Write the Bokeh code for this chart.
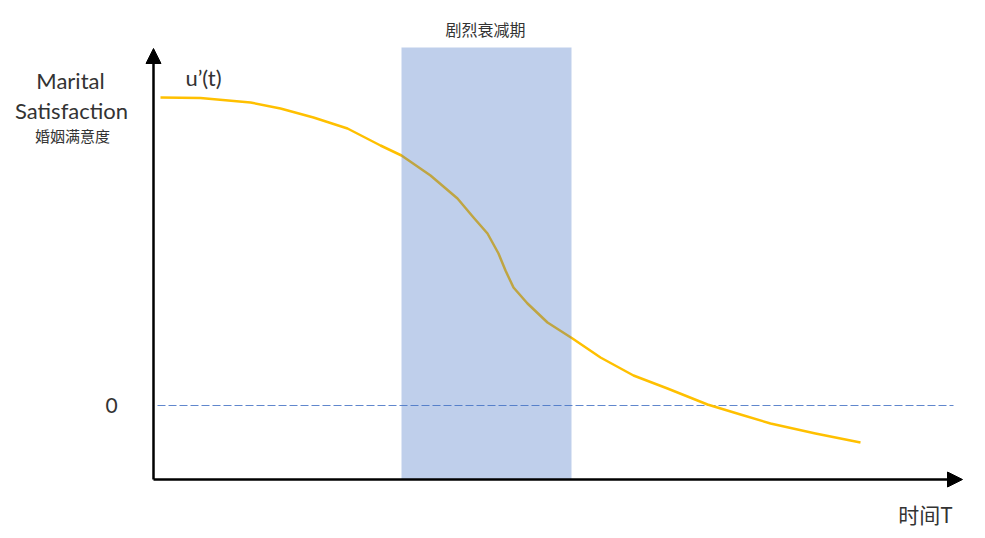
from bokeh.plotting import figure
from bokeh.models import Label, Arrow, NormalHead, Range1d
from bokeh.embed import file_html
from bokeh.resources import INLINE

# ---- data (time t, satisfaction u'(t)) ----
curve_t = [0.07, 0.47, 0.97, 1.27, 1.60, 1.94, 2.27, 2.48, 2.77, 3.04, 3.20, 3.34,
           3.45, 3.52, 3.60, 3.74, 3.94, 4.19, 4.47, 4.80, 5.14, 5.54, 5.87, 6.17,
           6.62, 7.07]
curve_u = [3.08, 3.075, 3.03, 2.97, 2.88, 2.77, 2.60, 2.50, 2.30, 2.07, 1.88, 1.72,
           1.52, 1.35, 1.18, 1.02, 0.83, 0.67, 0.48, 0.30, 0.17, 0.01, -0.09, -0.18,
           -0.28, -0.37]
band_t = [2.48, 4.18]          # 剧烈衰减期
zero_level = 0.0
zero_span = [0.04, 8.0]
axis_origin = [0.0, -0.74]
axis_x_end = 8.09
axis_y_end = 3.57
band_u = [-0.74, 3.58]

W, H = 969, 530
p = figure(width=W, height=H, output_backend="svg", toolbar_location=None,
           x_range=Range1d(-1.53, -1.53 + W / 100), y_range=Range1d(4.05 - H / 100, 4.05),
           min_border=0, x_axis_type=None, y_axis_type=None)
p.outline_line_color = None
p.xgrid.visible = False
p.ygrid.visible = False
p.background_fill_color = "white"
p.border_fill_color = "white"

# zero dashed line
p.line(zero_span, [zero_level, zero_level], line_color="#4472C4", line_width=1,
       line_dash="8 3", line_alpha=0.85)

# curve
p.line(curve_t, curve_u, line_color="#FFC000", line_width=2.5, line_join="round")

# shaded band on top (semi-transparent)
p.quad(left=[band_t[0]], right=[band_t[1]], bottom=[band_u[0]], top=[band_u[1]],
       fill_color="#4472C4", fill_alpha=0.34, line_color=None)

# axes with arrows
p.add_layout(Arrow(end=NormalHead(size=15, fill_color="black", line_color="black"),
                   x_start=axis_origin[0], y_start=axis_origin[1],
                   x_end=axis_x_end, y_end=axis_origin[1],
                   line_width=2.5, line_color="black"))
p.add_layout(Arrow(end=NormalHead(size=15, fill_color="black", line_color="black"),
                   x_start=axis_origin[0], y_start=axis_origin[1],
                   x_end=axis_origin[0], y_end=axis_y_end,
                   line_width=2.5, line_color="black"))

latin = "Lato"
cjk = "Noto Sans CJK SC"
tc = "#333333"

def lab(x, y, text, font, size):
    p.add_layout(Label(x=x, y=y, text=text, text_font=font, text_font_size=size,
                       text_color=tc, text_align="center", text_baseline="middle"))

lab(-0.83, 3.25, "Marital", latin, "22px")
lab(-0.82, 2.95, "Satisfaction", latin, "22px")
lab(-0.81, 2.70, "婚姻满意度", cjk, "15px")
lab(0.50, 3.28, "u’(t)", latin, "22px")
lab(3.32, 3.77, "剧烈衰减期", cjk, "16px")
lab(-0.42, 0.0, "0", latin, "21px")
lab(7.72, -1.08, "时间T", cjk, "21px")

open("out.html", "w").write(file_html(p, INLINE))
